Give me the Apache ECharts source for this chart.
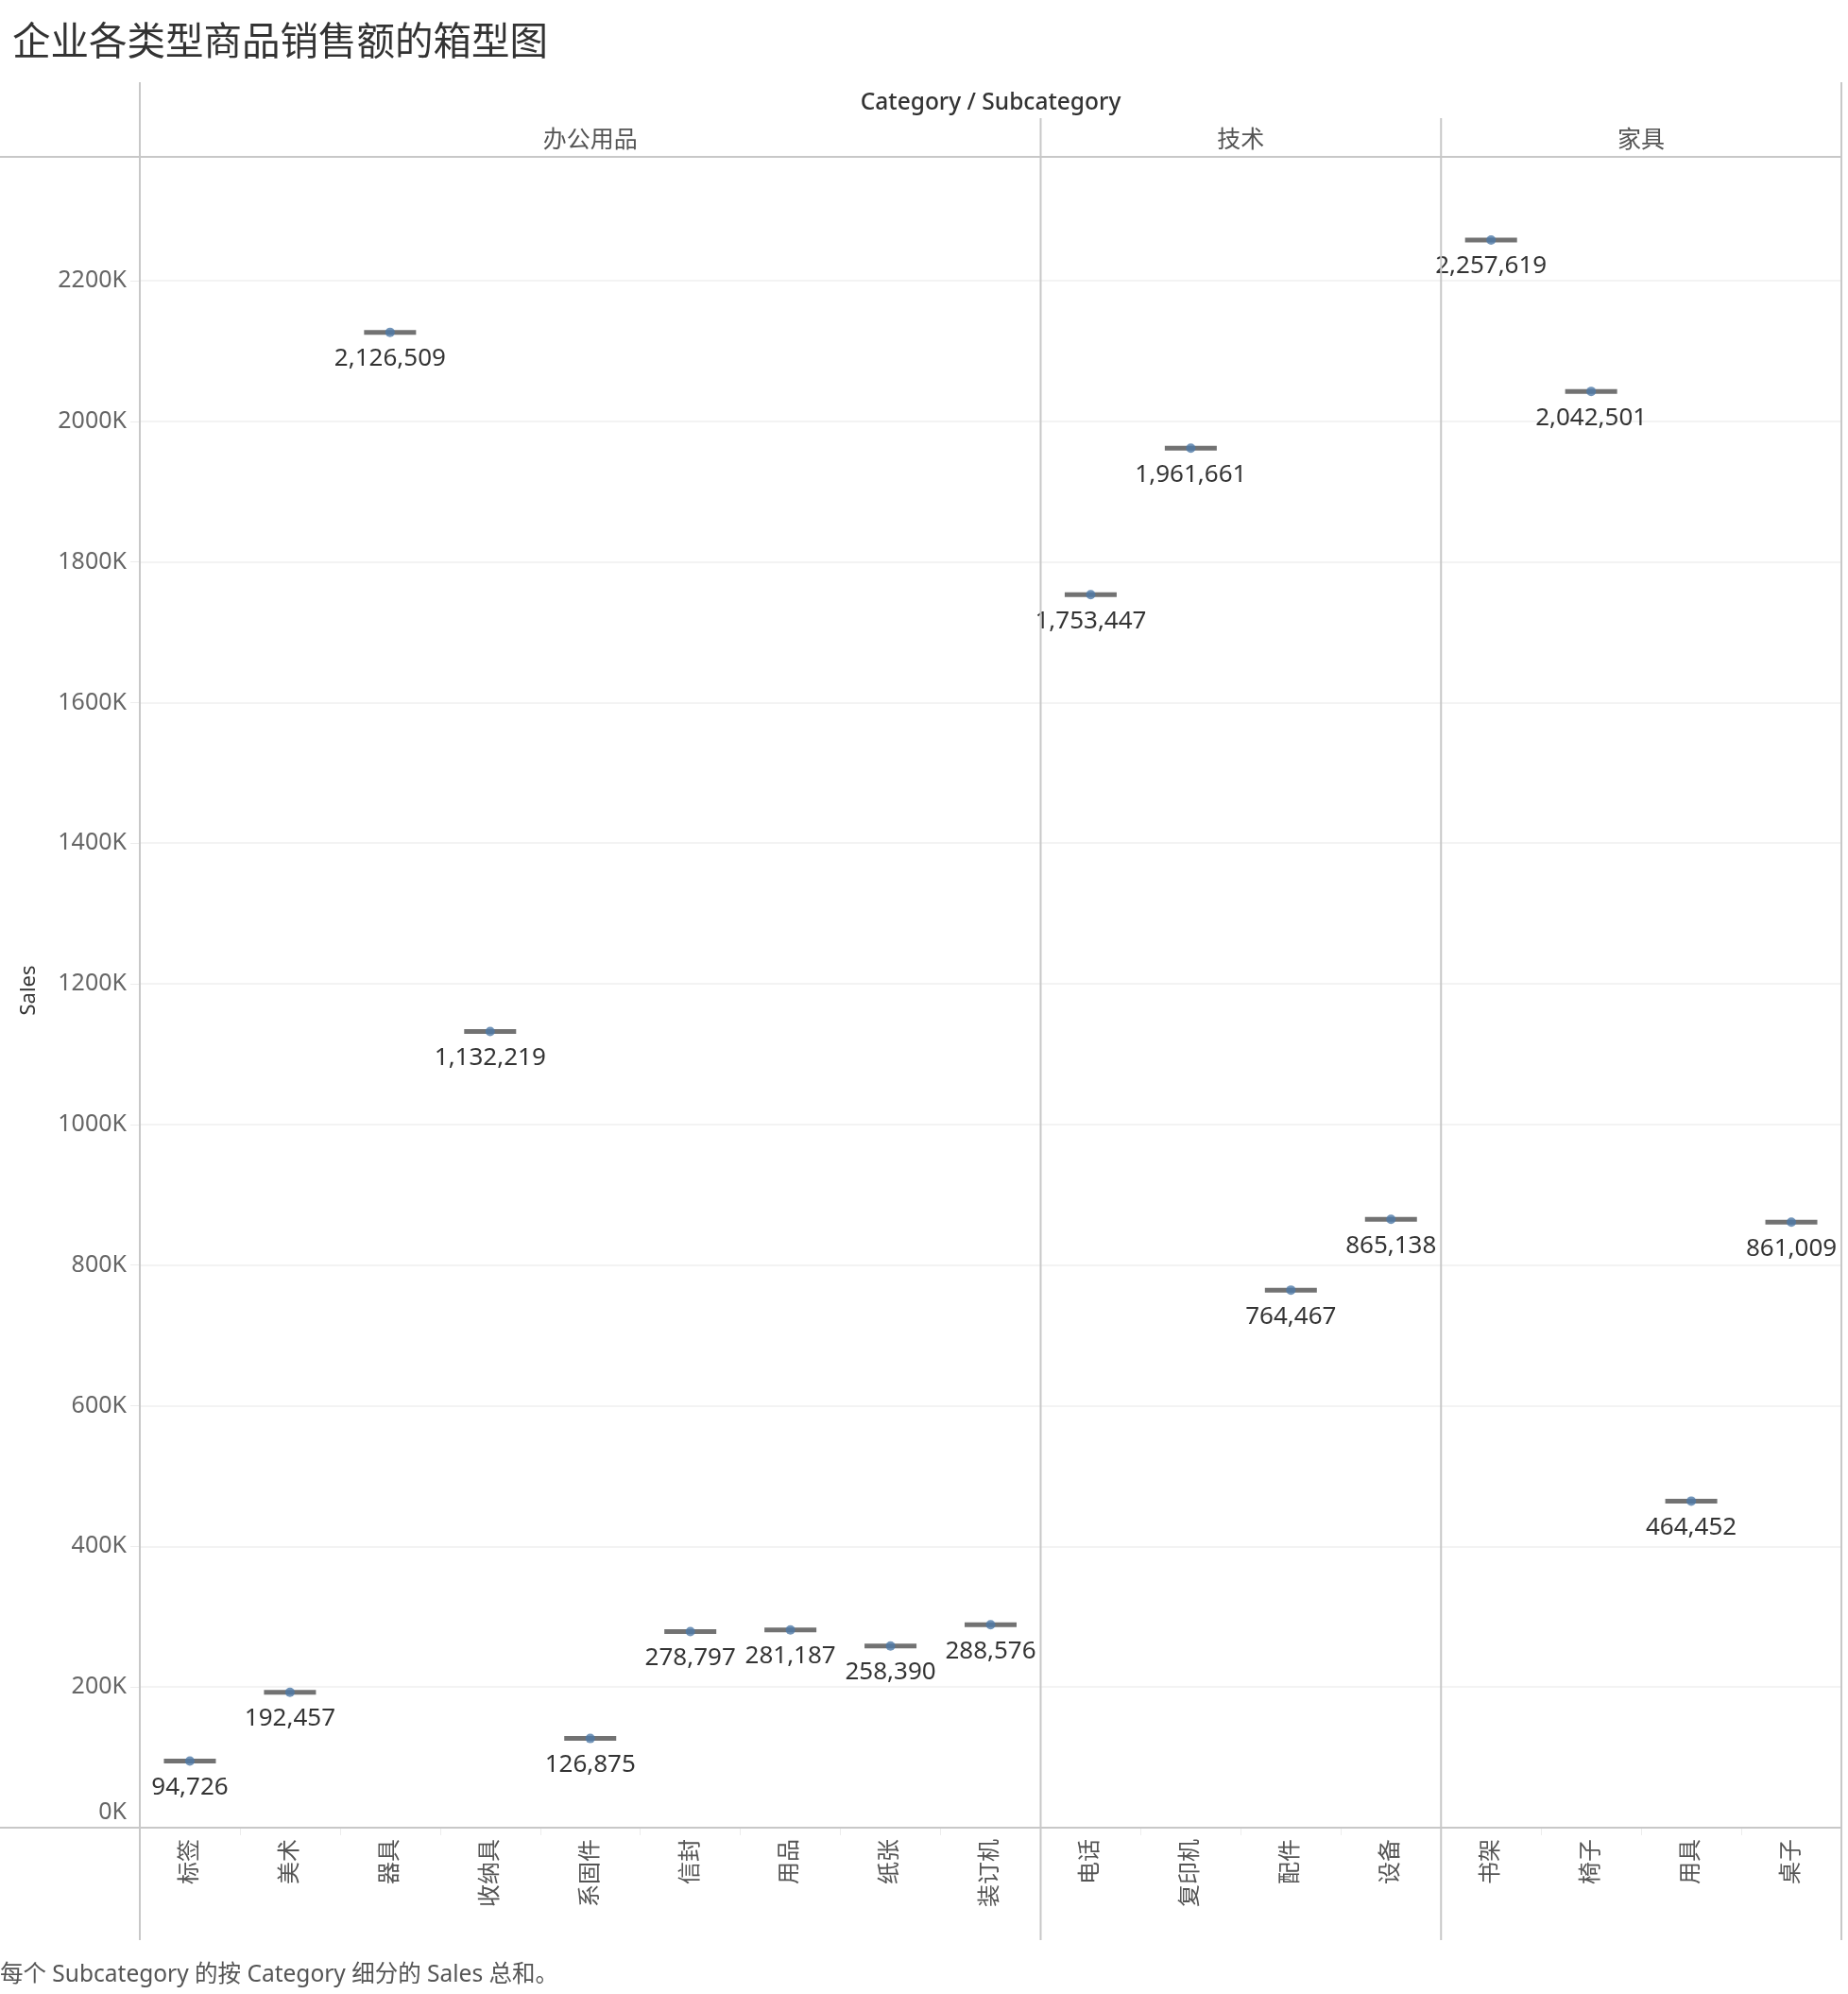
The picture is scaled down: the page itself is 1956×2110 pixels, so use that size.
<!DOCTYPE html>
<html>
<head>
<meta charset="utf-8">
<script src="https://cdn.jsdelivr.net/npm/echarts@6/dist/echarts.min.js"></script>
<style>
html,body{margin:0;padding:0;background:#fff;}
#c{width:1956px;height:2110px;}
</style>
</head>
<body>
<div id="c"></div>
<script>
// ---- data ----
const categories = ['办公用品', '技术', '家具'];
const officeSubs = ['标签', '美术', '器具', '收纳具', '系固件', '信封', '用品', '纸张', '装订机'];
const officeSales = [94726, 192457, 2126509, 1132219, 126875, 278797, 281187, 258390, 288576];
const techSubs = ['电话', '复印机', '配件', '设备'];
const techSales = [1753447, 1961661, 764467, 865138];
const furnSubs = ['书架', '椅子', '用具', '桌子'];
const furnSales = [2257619, 2042501, 464452, 861009];
const yTicks = [0, 200000, 400000, 600000, 800000, 1000000, 1200000, 1400000, 1600000, 1800000, 2000000, 2200000];

const groups = [
  { name: categories[0], subs: officeSubs, sales: officeSales },
  { name: categories[1], subs: techSubs, sales: techSales },
  { name: categories[2], subs: furnSubs, sales: furnSales }
];

// ---- layout ----
const W = 1956, H = 2110;
const plotLeft = 148, plotRight = 1949, plotTop = 166, plotBottom = 1934;
const yMax = 2376000;
const FONT = '"Noto Sans", "Noto Sans CJK SC", sans-serif';
const total = groups.reduce((s, g) => s + g.subs.length, 0);
const colW = (plotRight - plotLeft) / total;

const grids = [], xAxes = [], yAxes = [], series = [], graphics = [];
let offset = 0;
const bounds = [];
groups.forEach((g, i) => {
  const l = plotLeft + colW * offset;
  const r = plotLeft + colW * (offset + g.subs.length);
  bounds.push([l, r]);
  offset += g.subs.length;
  grids.push({ left: l, width: r - l, top: plotTop, height: plotBottom - plotTop, containLabel: false });
  xAxes.push({
    type: 'category', gridIndex: i, data: g.subs,
    axisLine: { show: false },
    axisTick: { show: true, length: 8, lineStyle: { color: '#ececec' } },
    axisLabel: { rotate: 90, fontSize: 24, color: '#555', fontFamily: FONT, margin: 12 }
  });
  yAxes.push({
    type: 'value', gridIndex: i, min: 0, max: yMax, interval: 200000,
    axisLine: { show: false },
    axisTick: { show: i === 0, length: 10, lineStyle: { color: '#ececec' } },
    axisLabel: {
      show: i === 0, fontSize: 25, color: '#666', fontFamily: FONT, margin: 14,
      formatter: v => {
        if (yTicks.indexOf(v) < 0) return '';
        const t = (v / 1000) + 'K';
        return v === 0 ? '{z|' + t + '}' : t;
      },
      rich: { z: { fontSize: 25, color: '#666', fontFamily: FONT, padding: [0, 0, 32, 0] } }
    },
    splitLine: { show: true, lineStyle: { color: '#efefef', width: 1.5 } }
  });
  series.push({
    type: 'scatter', xAxisIndex: i, yAxisIndex: i,
    symbol: 'rect', symbolSize: [55, 5],
    itemStyle: { color: '#4f4f4f' },
    data: g.sales, silent: true, z: 2
  });
  series.push({
    type: 'scatter', xAxisIndex: i, yAxisIndex: i,
    symbol: 'circle', symbolSize: 10,
    itemStyle: { color: '#4e79a7' },
    data: g.sales, z: 3,
    label: {
      show: true, position: 'bottom', distance: 10,
      fontSize: 26, color: '#000', fontFamily: FONT,
      formatter: p => p.value.toLocaleString('en-US')
    }
  });
  // category header text
  graphics.push({
    type: 'text', x: (l + r) / 2, y: 149,
    style: { text: g.name, fill: '#555', font: '25px ' + FONT, textAlign: 'center', textVerticalAlign: 'middle' }
  });
});

const lineColor = '#c8c8c8';
function vline(x, y1, y2) {
  graphics.push({ type: 'line', shape: { x1: x, y1: y1, x2: x, y2: y2 }, style: { stroke: lineColor, lineWidth: 2 }, z: 10 });
}
function hline(y, x1, x2) {
  graphics.push({ type: 'line', shape: { x1: x1, y1: y, x2: x2, y2: y }, style: { stroke: lineColor, lineWidth: 2 }, z: 10 });
}
hline(plotTop, 0, plotRight);
hline(plotBottom, 0, plotRight);
vline(plotLeft, 87, 2053);
vline(plotRight, 87, 2053);
bounds.slice(1).forEach(b => vline(b[0], 125, 2053));

graphics.push({
  type: 'text', x: (plotLeft + plotRight) / 2, y: 109,
  style: { text: 'Category / Subcategory', fill: '#333', font: '500 24.5px ' + FONT, textAlign: 'center', textVerticalAlign: 'middle' }
});
graphics.push({
  type: 'text', x: 31, y: 1048, rotation: Math.PI / 2,
  style: { text: 'Sales', fill: '#333', font: '22px ' + FONT, textAlign: 'center', textVerticalAlign: 'middle' }
});
graphics.push({
  type: 'text', x: 0, y: 2090,
  style: { text: '每个 Subcategory 的按 Category 细分的 Sales 总和。', fill: '#555', font: '24.5px ' + FONT, textAlign: 'left', textVerticalAlign: 'middle' }
});

const chart = echarts.init(document.getElementById('c'), null, { renderer: 'canvas', width: W, height: H });
chart.setOption({
  backgroundColor: '#fff',
  animation: false,
  title: {
    text: '企业各类型商品销售额的箱型图', left: 8, top: 21,
    textStyle: { fontSize: 40.5, fontWeight: 'normal', color: '#333', fontFamily: FONT }
  },
  grid: grids,
  xAxis: xAxes,
  yAxis: yAxes,
  series: series,
  graphic: graphics
});
</script>
</body>
</html>
